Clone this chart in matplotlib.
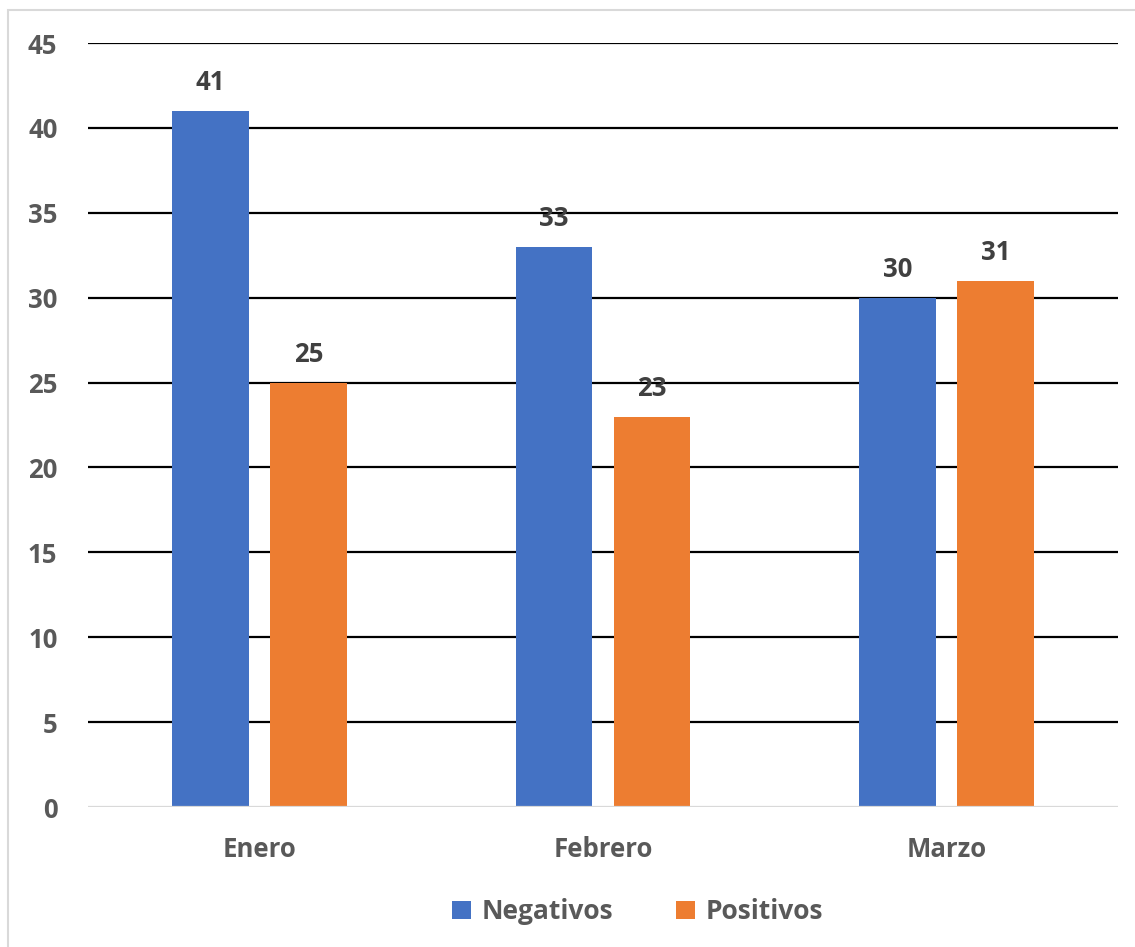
import numpy as np
import matplotlib
matplotlib.use("Agg")
import matplotlib.pyplot as plt
from matplotlib.patches import Rectangle

months = ["Enero", "Febrero", "Marzo"]
negativos = [41, 33, 30]
positivos = [25, 23, 31]
yticks = [0, 5, 10, 15, 20, 25, 30, 35, 40, 45]

plt.rcParams['font.family'] = ['Open Sans', 'DejaVu Sans']
plt.rcParams['font.weight'] = 'bold'

FS = 18.5

fig = plt.figure(figsize=(11.35, 9.47), dpi=100)
ax = fig.add_axes([88 / 1135, 1 - 807 / 947, 1030 / 1135, 764 / 947])

x = np.arange(len(months))
w = 0.224
off = 0.1428
b1 = ax.bar(x - off, negativos, w, color="#4472C4", label="Negativos", zorder=3)
b2 = ax.bar(x + off, positivos, w, color="#ED7D31", label="Positivos", zorder=3)

for bars in (b1, b2):
    for rect in bars:
        h = rect.get_height()
        ax.text(rect.get_x() + rect.get_width() / 2, h + 0.85, f"{h:g}",
                ha="center", va="bottom", fontsize=FS, fontweight="bold",
                color="#404040", zorder=5)

ax.set_xlim(-0.5, 2.5)
ax.set_ylim(0, 45)
ax.set_yticks(yticks)
ax.set_xticks(x)
ax.set_xticklabels(months)
ax.tick_params(axis="both", length=0, labelsize=FS, labelcolor="#595959")
ax.tick_params(axis="y", pad=22)
ax.tick_params(axis="x", pad=21)
for lbl in ax.get_xticklabels() + ax.get_yticklabels():
    lbl.set_fontweight("bold")

for v in yticks[1:]:
    ax.axhline(v, color="black", lw=1.6, zorder=1)
ax.axhline(0, color="#D9D9D9", lw=1.6, zorder=4)

for s in ax.spines.values():
    s.set_visible(False)

leg = ax.legend(loc="center", bbox_to_anchor=(0.5335, -0.137), ncol=2, frameon=False,
                fontsize=19, handlelength=0.7, handleheight=0.7, handletextpad=0.4,
                columnspacing=2.4)
for t in leg.get_texts():
    t.set_color("#595959")
    t.set_fontweight("bold")

# light chart-area border
fig.add_artist(Rectangle((8 / 1135, -0.1), 1.2, 1 - 10 / 947 + 0.1,
                         transform=fig.transFigure, fill=False,
                         edgecolor="#D9D9D9", lw=1.5))

fig.savefig("out.png", dpi=100)
